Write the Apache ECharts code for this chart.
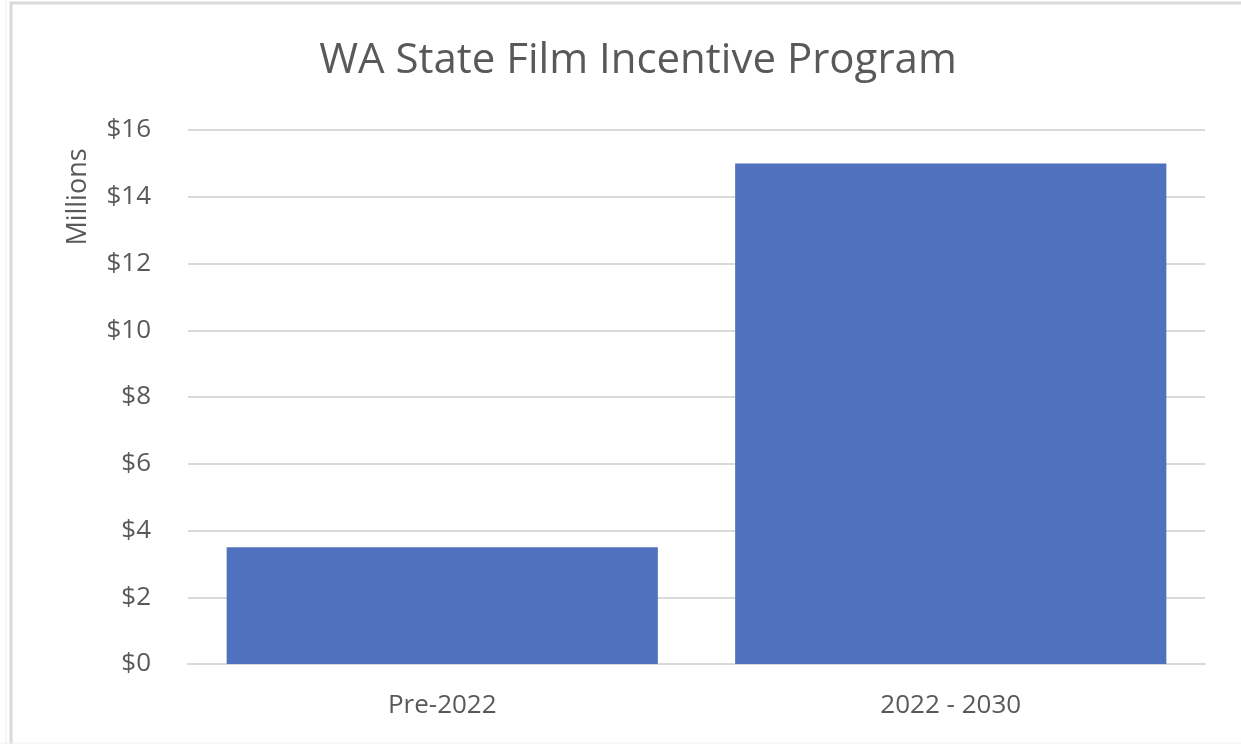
<!DOCTYPE html>
<html>
<head>
<meta charset="utf-8">
<script src="https://cdn.jsdelivr.net/npm/echarts@6/dist/echarts.min.js"></script>
<style>
html,body{margin:0;padding:0;background:#fff;}
#main{width:1241px;height:744px;}
</style>
</head>
<body>
<div id="main"></div>
<script>
const categories = ['Pre-2022', '2022 - 2030'];
const values = [3.5, 15];
const yTicks = { min: 0, max: 16, interval: 2 };
const titleText = 'WA State Film Incentive Program';
const yAxisName = 'Millions';

const chart = echarts.init(document.getElementById('main'));
const FONT = 'Open Sans';
const TXT = '#595959';
chart.setOption({
  backgroundColor: '#fff',
  animation: false,
  title: {
    text: titleText,
    left: 633, top: 35, textAlign: 'center',
    textStyle: { fontFamily: FONT, fontSize: 42, fontWeight: 'normal', color: TXT }
  },
  grid: { left: 188, right: 36, top: 130, bottom: 80, containLabel: false },
  xAxis: {
    type: 'category',
    data: categories,
    axisLine: { lineStyle: { color: '#d9d9d9', width: 2 } },
    axisTick: { show: false },
    axisLabel: { fontFamily: FONT, fontSize: 26, color: TXT, margin: 29 }
  },
  yAxis: {
    type: 'value',
    min: yTicks.min, max: yTicks.max, interval: yTicks.interval,
    axisLine: { show: false },
    axisTick: { show: false },
    splitLine: { lineStyle: { color: '#d9d9d9', width: 2 } },
    axisLabel: { fontFamily: FONT, fontSize: 26, color: TXT, margin: 37,
      formatter: v => '$' + v }
  },
  series: [{
    type: 'bar',
    data: values,
    barCategoryGap: '15.2%',
    itemStyle: { color: '#4f71be' }
  }],
  graphic: [
    { type: 'rect', silent: true, z: -1,
      shape: { x: 11, y: 3, width: 1300, height: 800 },
      style: { fill: 'none', stroke: '#d9d9d9', lineWidth: 3 } },
    { type: 'line', silent: true, shape: { x1: 6, y1: 0, x2: 6, y2: 744 }, style: { stroke: '#efefef', lineWidth: 1 } },
    { type: 'line', silent: true, shape: { x1: 0, y1: 743, x2: 1241, y2: 743 }, style: { stroke: '#efefef', lineWidth: 1 } },
    { type: 'text', silent: true, x: 78, y: 197, rotation: Math.PI / 2,
      style: { text: yAxisName, fontFamily: FONT, fontSize: 27, fill: TXT,
        textAlign: 'center', textVerticalAlign: 'middle' } }
  ]
});
</script>
</body>
</html>
